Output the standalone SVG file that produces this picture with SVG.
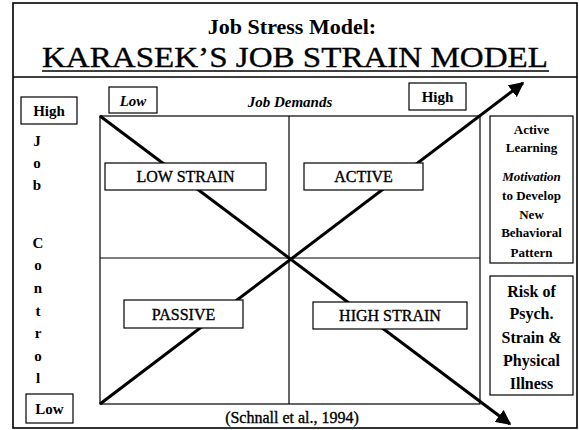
<svg xmlns="http://www.w3.org/2000/svg" width="579" height="430" viewBox="0 0 579 430">
  <style>
    text { font-family: "Liberation Serif", "Times New Roman", serif; fill: #000; }
    .heavy { stroke: #000; stroke-width: 0.35; }
    .box { fill: #fff; stroke: #000; stroke-width: 1.2; }
    .frame { fill: none; stroke: #000; stroke-width: 1.6; }
    .grid { fill: none; stroke: #000; stroke-width: 1.2; }
    .diag { stroke: #000; stroke-width: 3; fill: none; }
    .lbl { font-size: 16px; text-anchor: middle; }
    .side { font-size: 13px; font-weight: bold; text-anchor: middle; }
    .risk { font-size: 16px; font-weight: bold; text-anchor: middle; }
    .axis { font-size: 15px; font-weight: bold; text-anchor: middle; }
  </style>
  <defs>
    <marker id="arrow" viewBox="0 0 10 10" refX="9" refY="5" markerWidth="5" markerHeight="5" orient="auto" markerUnits="strokeWidth">
      <path d="M0,0 L10,5 L0,10 z" fill="#000"/>
    </marker>
  </defs>

  <!-- outer frame and title rule -->
  <rect class="frame" x="13" y="3" width="564" height="425"/>
  <line class="frame" x1="13" y1="77" x2="577" y2="77"/>

  <!-- title -->
  <g id="title">
    <text x="292" y="34" font-size="22" font-weight="bold" text-anchor="middle">Job Stress Model:</text>
    <text class="heavy" x="295" y="67" font-size="30" text-anchor="middle" textLength="506" lengthAdjust="spacingAndGlyphs">KARASEK’S JOB STRAIN MODEL</text>
    <line x1="42" y1="71" x2="549" y2="71" stroke="#000" stroke-width="1.5"/>
  </g>

  <!-- quadrant grid -->
  <g id="grid">
    <rect class="grid" x="100" y="116" width="380" height="288"/>
    <line class="grid" x1="289" y1="116" x2="289" y2="404"/>
    <line class="grid" x1="100" y1="258" x2="480" y2="258"/>
  </g>

  <!-- diagonals -->
  <g id="connectors">
    <line class="diag" x1="100" y1="116" x2="510" y2="424" marker-end="url(#arrow)"/>
    <line class="diag" x1="100" y1="404" x2="523" y2="83" marker-end="url(#arrow)"/>
  </g>

  <!-- axis labels -->
  <g id="demands-low">
    <rect class="box" x="109" y="87" width="48" height="26"/>
    <text class="axis" x="133" y="106" font-style="italic">Low</text>
  </g>
  <g id="demands-title">
    <text class="axis" x="290" y="107" font-style="italic">Job Demands</text>
  </g>
  <g id="demands-high">
    <rect class="box" x="409" y="83" width="57" height="27"/>
    <text class="axis" x="437.5" y="102">High</text>
  </g>
  <g id="control-high">
    <rect class="box" x="21" y="97" width="56" height="27"/>
    <text class="axis" x="49" y="116">High</text>
  </g>
  <g id="control-title" class="axis">
    <text x="37" y="146">J</text>
    <text x="37" y="168">o</text>
    <text x="37" y="190">b</text>
    <text x="38" y="248">C</text>
    <text x="38" y="270">o</text>
    <text x="38" y="293">n</text>
    <text x="38" y="316">t</text>
    <text x="38" y="338">r</text>
    <text x="38" y="361">o</text>
    <text x="38" y="383">l</text>
  </g>
  <g id="control-low">
    <rect class="box" x="26" y="394" width="47" height="29"/>
    <text class="axis" x="49.5" y="414">Low</text>
  </g>

  <!-- quadrant labels -->
  <g id="low-strain">
    <rect class="box" x="105" y="163" width="161" height="27"/>
    <text class="lbl heavy" x="185.5" y="182">LOW STRAIN</text>
  </g>
  <g id="active">
    <rect class="box" x="304" y="163" width="119" height="27"/>
    <text class="lbl heavy" x="363.5" y="182">ACTIVE</text>
  </g>
  <g id="passive">
    <rect class="box" x="124" y="300" width="119" height="28"/>
    <text class="lbl heavy" x="183.5" y="320">PASSIVE</text>
  </g>
  <g id="high-strain">
    <rect class="box" x="313" y="302" width="154" height="27"/>
    <text class="lbl heavy" x="390" y="321">HIGH STRAIN</text>
  </g>

  <!-- outcome boxes -->
  <g id="active-learning">
    <rect class="box" x="490" y="116" width="83" height="147"/>
    <text class="side" x="531.5" y="134">Active</text>
    <text class="side" x="531.5" y="152">Learning</text>
    <text class="side" x="531.5" y="181" font-style="italic">Motivation</text>
    <text class="side" x="531.5" y="200">to Develop</text>
    <text class="side" x="531.5" y="219">New</text>
    <text class="side" x="531.5" y="237">Behavioral</text>
    <text class="side" x="531.5" y="257">Pattern</text>
  </g>
  <g id="risk">
    <rect class="box" x="490" y="276" width="83" height="119"/>
    <text class="risk" x="531.5" y="297">Risk of</text>
    <text class="risk" x="531.5" y="319">Psych.</text>
    <text class="risk" x="531.5" y="343">Strain &amp;</text>
    <text class="risk" x="531.5" y="366">Physical</text>
    <text class="risk" x="531.5" y="389">Illness</text>
  </g>

  <!-- source -->
  <g id="source">
    <text class="heavy" x="292" y="423" font-size="16" text-anchor="middle">(Schnall et al., 1994)</text>
  </g>
</svg>
